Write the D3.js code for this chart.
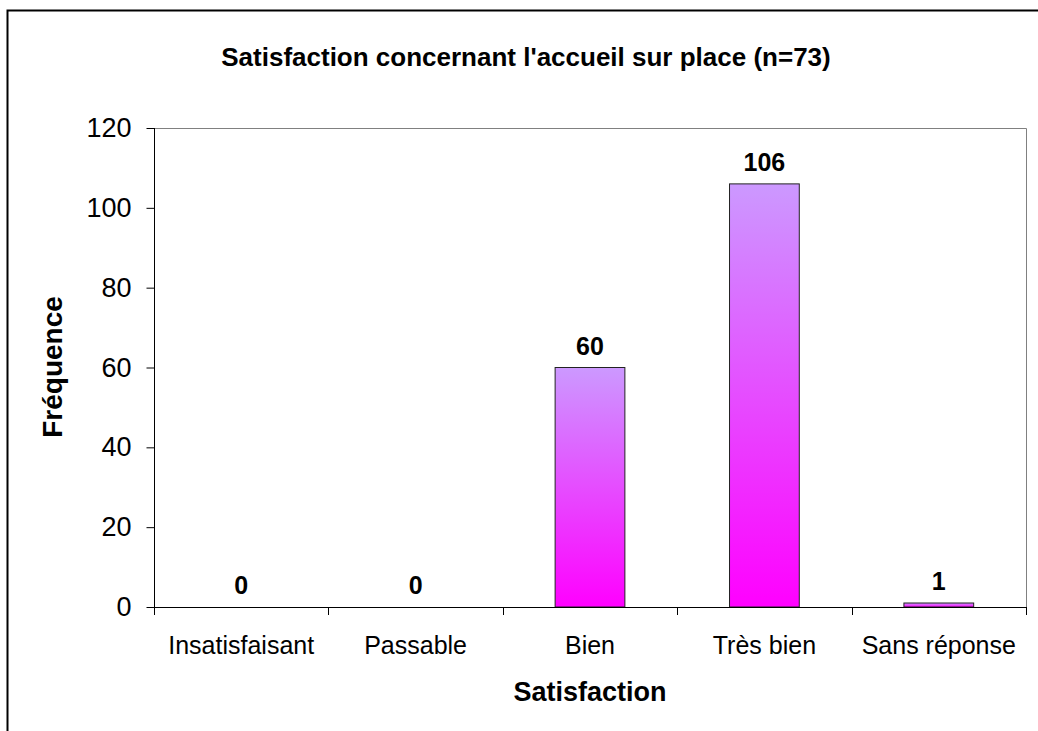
<!DOCTYPE html>
<html>
<head>
<meta charset="utf-8">
<script src="https://d3js.org/d3.v7.min.js"></script>
<style>
  body { margin: 0; background: #fff; }
  svg { display: block; font-family: "Liberation Sans", Arial, sans-serif; }
</style>
</head>
<body>
<script>
  // data
  var categories = ["Insatisfaisant", "Passable", "Bien", "Très bien", "Sans réponse"];
  var frequencies = [0, 0, 60, 106, 1];
  var yTicks = [0, 20, 40, 60, 80, 100, 120];
  var title = "Satisfaction concernant l'accueil sur place (n=73)";
  var xTitle = "Satisfaction";
  var yTitle = "Fréquence";

  var W = 1038, H = 731;
  var plot = {left: 154, top: 128, right: 1026, bottom: 607};

  var svg = d3.select("body").append("svg")
      .attr("width", W)
      .attr("height", H);

  var defs = svg.append("defs");
  var grad = defs.append("linearGradient")
      .attr("id", "barFill")
      .attr("x1", 0).attr("y1", 0).attr("x2", 0).attr("y2", 1);
  grad.append("stop").attr("offset", "0%").attr("stop-color", "#cc99ff");
  grad.append("stop").attr("offset", "100%").attr("stop-color", "#ff00ff");

  // outer chart frame
  svg.append("rect")
      .attr("x", 7.5).attr("y", 10.5)
      .attr("width", 1100).attr("height", 800)
      .attr("fill", "none")
      .attr("stroke", "#000")
      .attr("stroke-width", 2);

  var x = d3.scaleBand()
      .domain(categories)
      .range([plot.left, plot.right])
      .padding(0);

  var y = d3.scaleLinear()
      .domain([0, 120])
      .range([plot.bottom, plot.top]);

  // plot area border (top and right, grey)
  svg.append("path")
      .attr("d", "M" + plot.left + "," + (plot.top + 0.5) + "H" + (plot.right + 0.5) + "V" + plot.bottom)
      .attr("fill", "none")
      .attr("stroke", "#808080")
      .attr("stroke-width", 1);

  // bars
  var barW = x.bandwidth() * 0.4;
  svg.selectAll(".bar")
      .data(frequencies)
      .enter().append("rect")
      .attr("class", "bar")
      .attr("x", function(d, i) { return x(categories[i]) + (x.bandwidth() - barW) / 2; })
      .attr("y", function(d) { return y(d); })
      .attr("width", barW)
      .attr("height", function(d) { return y(0) - y(d); })
      .attr("fill", "url(#barFill)")
      .attr("stroke", function(d) { return d > 0 ? "#222" : "none"; })
      .attr("stroke-width", 1);

  // value labels
  svg.selectAll(".val")
      .data(frequencies)
      .enter().append("text")
      .attr("class", "val")
      .attr("x", function(d, i) { return x(categories[i]) + x.bandwidth() / 2; })
      .attr("y", function(d) { return y(d) - 13; })
      .attr("text-anchor", "middle")
      .attr("font-size", 25)
      .attr("font-weight", "bold")
      .text(function(d) { return d; });

  // y axis
  var yAxis = svg.append("g")
      .attr("transform", "translate(" + (plot.left + 0.5) + ",0)")
      .call(d3.axisLeft(y).tickValues(yTicks).tickSize(8).tickPadding(15));
  yAxis.select(".domain").remove();
  yAxis.selectAll("line").attr("stroke", "#000");
  yAxis.selectAll("text")
      .attr("font-size", 27)
      .attr("font-family", "Liberation Sans, Arial, sans-serif")
      .attr("fill", "#000");
  svg.append("line")
      .attr("x1", plot.left + 0.5).attr("x2", plot.left + 0.5)
      .attr("y1", plot.top).attr("y2", plot.bottom + 8)
      .attr("stroke", "#000");

  // x axis, ticks between categories
  svg.append("line")
      .attr("x1", plot.left).attr("x2", plot.right + 1)
      .attr("y1", plot.bottom + 0.5).attr("y2", plot.bottom + 0.5)
      .attr("stroke", "#000");
  var bounds = categories.map(function(c) { return x(c); }).concat([x.range()[1]]);
  svg.selectAll(".xtick")
      .data(bounds)
      .enter().append("line")
      .attr("class", "xtick")
      .attr("x1", function(d) { return Math.round(d) + 0.5; })
      .attr("x2", function(d) { return Math.round(d) + 0.5; })
      .attr("y1", plot.bottom)
      .attr("y2", plot.bottom + 8)
      .attr("stroke", "#000");

  svg.selectAll(".cat")
      .data(categories)
      .enter().append("text")
      .attr("class", "cat")
      .attr("x", function(d) { return x(d) + x.bandwidth() / 2; })
      .attr("y", 654)
      .attr("text-anchor", "middle")
      .attr("font-size", 25)
      .text(function(d) { return d; });

  // titles
  svg.append("text")
      .attr("x", 526)
      .attr("y", 66)
      .attr("text-anchor", "middle")
      .attr("font-size", 26)
      .attr("font-weight", "bold")
      .text(title);

  svg.append("text")
      .attr("x", 590)
      .attr("y", 701)
      .attr("text-anchor", "middle")
      .attr("font-size", 27)
      .attr("font-weight", "bold")
      .text(xTitle);

  svg.append("text")
      .attr("transform", "translate(62,367) rotate(-90)")
      .attr("text-anchor", "middle")
      .attr("font-size", 28)
      .attr("font-weight", "bold")
      .text(yTitle);
</script>
</body>
</html>
